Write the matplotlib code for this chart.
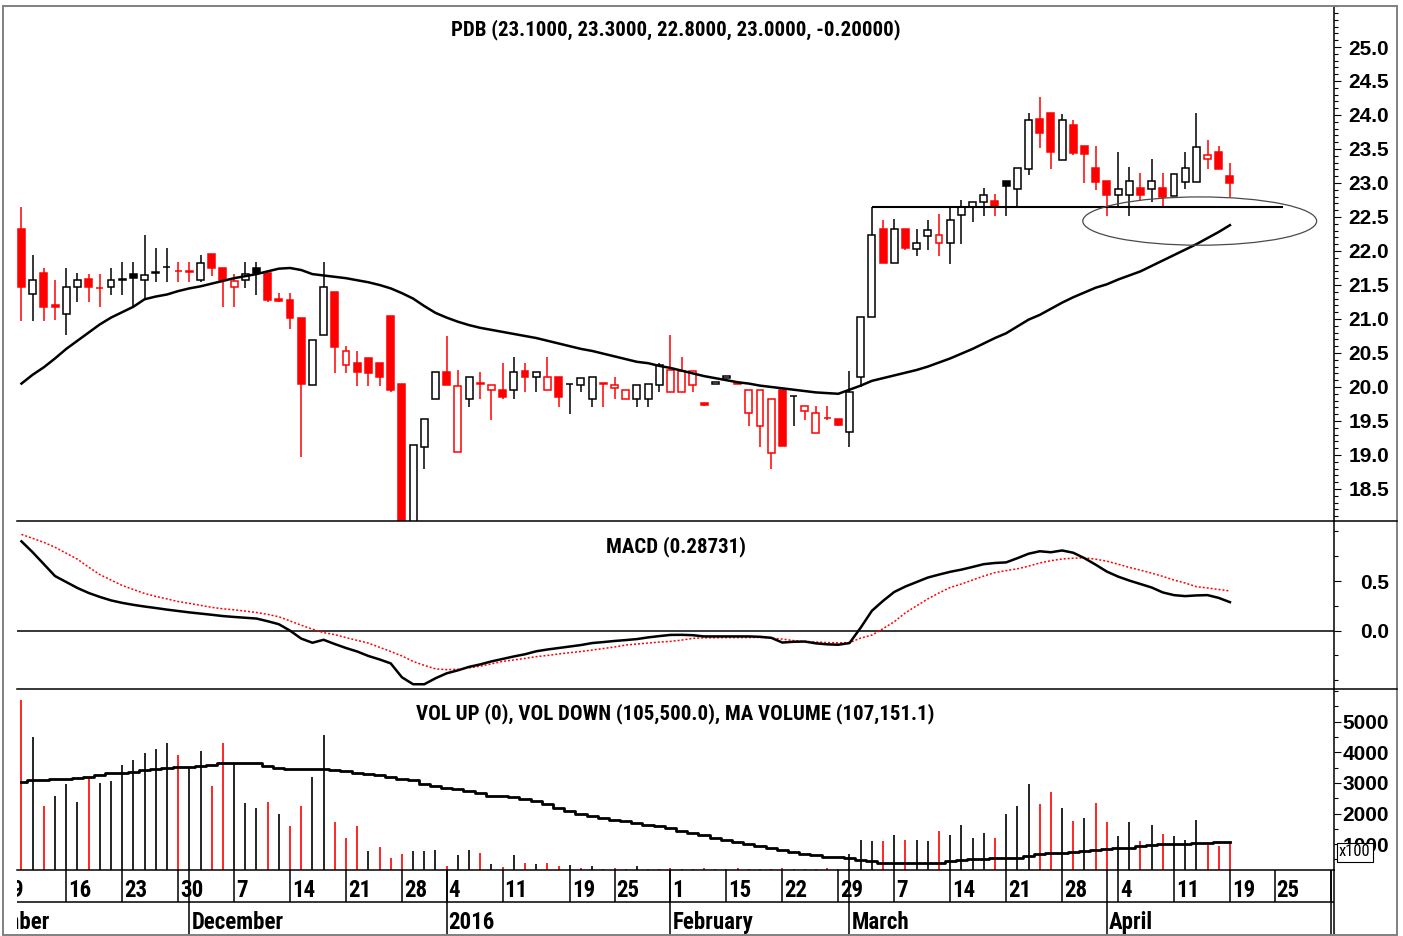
import matplotlib
matplotlib.use("Agg")
import matplotlib.pyplot as plt
import matplotlib.transforms as mtransforms
from matplotlib import font_manager as fm
from matplotlib.patches import Rectangle, Ellipse
from matplotlib.lines import Line2D
from matplotlib.ticker import MultipleLocator, FixedLocator, FixedFormatter

# ---------------------------------------------------------------- data
price_title = "PDB (23.1000, 23.3000, 22.8000, 23.0000, -0.20000)"
macd_title = "MACD (0.28731)"
vol_title = "VOL UP (0), VOL DOWN (105,500.0), MA VOLUME (107,151.1)"

prev_close0 = 22.50

opens = [22.33, 21.37, 21.67, 21.20, 21.07, 21.47, 21.59, 21.46, 21.47, 21.58,
         21.66, 21.57, 21.68, 21.76, 21.71, 21.70, 21.57, 21.96, 21.75, 21.47,
         21.57, 21.75, 21.67, 21.30, 21.28, 21.01, 20.03, 20.76, 21.39, 20.32,
         20.35, 20.42, 20.35, 21.04, 20.04, 17.95, 19.12, 19.83, 20.22, 19.04,
         19.83, 20.06, 19.95, 19.96, 19.95, 20.24, 20.14, 19.95, 20.14, 20.04,
         20.03, 19.83, 20.06, 19.98, 19.83, 19.83, 19.83, 20.03, 19.93, 19.93,
         20.03, 19.76, 20.05, 20.13, 20.06, 19.61, 19.43, 19.03, 19.96, 19.86,
         19.65, 19.32, 19.55, 19.53, 19.34, 20.14, 21.03, 22.33, 21.82, 22.33,
         22.03, 22.22, 22.12, 22.12, 22.53, 22.64, 22.72, 22.74, 23.03, 22.91,
         23.20, 23.94, 24.03, 23.34, 23.85, 23.54, 23.22, 23.03, 22.82, 22.82,
         22.92, 22.91, 22.92, 22.81, 23.02, 23.02, 23.36, 23.45, 23.10]
highs = [22.64, 21.94, 21.75, 21.57, 21.75, 21.67, 21.66, 21.66, 21.75, 21.84,
         21.84, 22.24, 22.04, 22.04, 21.84, 21.84, 21.94, 21.96, 21.75, 21.66,
         21.84, 21.84, 21.67, 21.38, 21.38, 21.01, 20.69, 21.84, 21.39, 20.61,
         20.53, 20.42, 20.35, 21.04, 20.04, 19.14, 19.53, 20.22, 20.75, 20.25,
         20.14, 20.22, 20.03, 20.35, 20.44, 20.35, 20.22, 20.44, 20.14, 20.05,
         20.13, 20.14, 20.06, 20.14, 19.95, 20.03, 20.04, 20.35, 20.76, 20.44,
         20.23, 19.76, 20.08, 20.16, 20.06, 19.96, 19.96, 19.83, 19.96, 19.87,
         19.72, 19.72, 19.72, 19.53, 20.24, 21.03, 22.64, 22.46, 22.47, 22.33,
         22.32, 22.46, 22.54, 22.63, 22.75, 22.72, 22.92, 22.84, 23.03, 23.22,
         24.03, 24.26, 24.03, 24.02, 23.93, 23.54, 23.54, 23.03, 23.45, 23.23,
         23.14, 23.36, 23.14, 23.13, 23.45, 24.03, 23.63, 23.54, 23.30]
lows = [20.97, 20.97, 20.97, 20.99, 20.76, 21.25, 21.25, 21.17, 21.35, 21.35,
        21.19, 21.29, 21.55, 21.55, 21.55, 21.55, 21.55, 21.63, 21.17, 21.17,
        21.45, 21.35, 21.25, 21.25, 20.86, 18.97, 20.03, 20.76, 20.21, 20.21,
        20.01, 20.01, 20.01, 19.93, 17.90, 17.90, 18.80, 19.83, 20.03, 19.04,
        19.70, 19.83, 19.51, 19.83, 19.82, 19.93, 19.93, 19.95, 19.70, 19.60,
        19.93, 19.70, 19.70, 19.83, 19.83, 19.70, 19.70, 19.93, 19.93, 19.93,
        19.93, 19.72, 20.04, 20.13, 20.04, 19.42, 19.12, 18.80, 19.13, 19.42,
        19.51, 19.32, 19.51, 19.42, 19.12, 20.00, 21.03, 21.82, 21.82, 22.01,
        21.92, 22.01, 21.92, 21.81, 22.10, 22.43, 22.51, 22.51, 22.51, 22.64,
        23.12, 23.51, 23.20, 23.34, 23.41, 23.00, 22.90, 22.51, 22.64, 22.51,
        22.75, 22.72, 22.65, 22.81, 22.91, 23.02, 23.20, 23.20, 22.80]
closes = [21.47, 21.57, 21.18, 21.17, 21.47, 21.57, 21.47, 21.45, 21.57, 21.59,
          21.60, 21.65, 21.69, 21.77, 21.70, 21.69, 21.82, 21.75, 21.57, 21.56,
          21.66, 21.68, 21.28, 21.27, 21.01, 20.04, 20.69, 21.47, 20.59, 20.53,
          20.22, 20.21, 20.14, 19.96, 17.95, 19.14, 19.53, 20.22, 20.03, 20.02,
          20.14, 20.05, 20.03, 19.85, 20.22, 20.14, 20.22, 20.14, 19.85, 20.05,
          20.13, 20.14, 20.05, 20.03, 19.95, 20.03, 20.04, 20.32, 20.25, 20.24,
          20.23, 19.73, 20.07, 20.16, 20.04, 19.96, 19.95, 19.83, 19.13, 19.87,
          19.72, 19.62, 19.54, 19.44, 19.93, 21.03, 22.24, 21.82, 22.32, 22.05,
          22.12, 22.31, 22.24, 22.45, 22.64, 22.72, 22.82, 22.64, 22.95, 23.22,
          23.92, 23.73, 23.46, 23.92, 23.44, 23.43, 23.02, 22.82, 22.91, 23.03,
          22.82, 23.03, 22.79, 23.13, 23.22, 23.53, 23.41, 23.20, 23.00]

price_ma = [20.05, 20.18, 20.29, 20.42, 20.56, 20.68, 20.80, 20.92, 21.02, 21.10,
            21.18, 21.29, 21.33, 21.36, 21.41, 21.45, 21.48, 21.52, 21.56, 21.60,
            21.63, 21.66, 21.70, 21.74, 21.75, 21.72, 21.66, 21.64, 21.62, 21.60,
            21.57, 21.54, 21.50, 21.45, 21.38, 21.30, 21.19, 21.09, 21.02, 20.96,
            20.91, 20.87, 20.84, 20.81, 20.78, 20.75, 20.72, 20.68, 20.64, 20.60,
            20.56, 20.53, 20.49, 20.45, 20.41, 20.37, 20.35, 20.31, 20.28, 20.24,
            20.20, 20.16, 20.13, 20.10, 20.07, 20.05, 20.02, 20.00, 19.98, 19.96,
            19.94, 19.92, 19.91, 19.90, 19.96, 20.02, 20.09, 20.13, 20.17, 20.21,
            20.25, 20.30, 20.36, 20.42, 20.49, 20.56, 20.64, 20.72, 20.79, 20.89,
            20.99, 21.06, 21.15, 21.24, 21.32, 21.39, 21.46, 21.51, 21.58, 21.64,
            21.70, 21.78, 21.86, 21.94, 22.02, 22.10, 22.19, 22.28, 22.38]

macd = [0.90, 0.79, 0.67, 0.55, 0.49, 0.43, 0.38, 0.34, 0.305, 0.28,
        0.26, 0.243, 0.228, 0.212, 0.198, 0.184, 0.172, 0.16, 0.147, 0.138,
        0.13, 0.122, 0.095, 0.065, 0.0, -0.08, -0.122, -0.092, -0.135, -0.175,
        -0.21, -0.255, -0.29, -0.33, -0.47, -0.54, -0.54, -0.48, -0.43, -0.40,
        -0.365, -0.34, -0.31, -0.285, -0.26, -0.238, -0.208, -0.19, -0.175, -0.16,
        -0.145, -0.125, -0.115, -0.104, -0.095, -0.085, -0.068, -0.055, -0.043, -0.042,
        -0.046, -0.058, -0.058, -0.058, -0.058, -0.058, -0.062, -0.072, -0.12, -0.112,
        -0.11, -0.128, -0.138, -0.142, -0.125, 0.03, 0.20, 0.30, 0.39, 0.445,
        0.49, 0.535, 0.565, 0.593, 0.615, 0.642, 0.67, 0.682, 0.688, 0.73,
        0.775, 0.80, 0.79, 0.808, 0.785, 0.73, 0.665, 0.595, 0.545, 0.505,
        0.47, 0.435, 0.385, 0.358, 0.348, 0.355, 0.358, 0.33, 0.287]
signal = [0.97, 0.93, 0.89, 0.84, 0.78, 0.72, 0.64, 0.565, 0.51, 0.455,
          0.415, 0.375, 0.345, 0.32, 0.293, 0.275, 0.255, 0.235, 0.22, 0.21,
          0.197, 0.183, 0.164, 0.14, 0.098, 0.055, 0.015, -0.02, -0.04, -0.07,
          -0.098, -0.125, -0.168, -0.21, -0.255, -0.31, -0.35, -0.385, -0.393, -0.39,
          -0.375, -0.358, -0.335, -0.31, -0.295, -0.28, -0.262, -0.25, -0.235, -0.222,
          -0.21, -0.195, -0.18, -0.165, -0.145, -0.135, -0.125, -0.115, -0.108, -0.095,
          -0.078, -0.072, -0.072, -0.07, -0.07, -0.069, -0.068, -0.075, -0.085, -0.10,
          -0.108, -0.115, -0.12, -0.123, -0.12, -0.075, -0.045, 0.02, 0.09, 0.18,
          0.25, 0.32, 0.38, 0.435, 0.47, 0.51, 0.55, 0.585, 0.605, 0.623,
          0.65, 0.682, 0.705, 0.722, 0.73, 0.735, 0.72, 0.70, 0.67, 0.637,
          0.61, 0.58, 0.547, 0.51, 0.48, 0.443, 0.43, 0.415, 0.40]

# volume in units of 100 shares
volume = [5700, 4500, 2240, 2570, 2960, 2390, 3180, 3010, 3070, 3580,
          3760, 3970, 4110, 4310, 3920, 3510, 4050, 2900, 4310, 3620,
          2350, 2190, 2390, 1970, 1580, 2260, 3210, 4580, 1710, 1200,
          1580, 760, 900, 560, 670, 760, 760, 810, 290, 630,
          810, 710, 350, 240, 630, 380, 350, 380, 290, 320,
          210, 290, 200, 210, 200, 290, 190, 200, 210, 190,
          200, 210, 190, 200, 210, 200, 190, 200, 210, 200,
          190, 200, 210, 200, 680, 1120, 1090, 1090, 1290, 1140,
          1120, 1090, 1420, 1310, 1620, 1200, 1380, 1200, 2000, 2240,
          2960, 2300, 2720, 2190, 1750, 1860, 2330, 1710, 1280, 1710,
          1090, 1620, 1330, 1280, 1140, 1800, 980, 950, 1055]
vol_down_days = [0, 2, 6, 14, 17, 18, 22, 24, 25, 28, 29, 30, 32, 33, 34, 38, 41,
                 43, 45, 47, 48, 50, 52, 53, 54, 56, 57, 58, 59, 60, 61, 62, 63,
                 64, 65, 66, 67, 68, 69, 70, 71, 72, 73, 77, 79, 82, 87, 91, 92,
                 94, 96, 97, 100, 102, 106, 107, 108]
volume_ma = [3030, 3098, 3110, 3125, 3144, 3175, 3210, 3265, 3319, 3340,
             3362, 3410, 3451, 3480, 3507, 3535, 3560, 3600, 3649, 3649,
             3649, 3649, 3560, 3500, 3451, 3451, 3451, 3451, 3425, 3380,
             3340, 3290, 3245, 3190, 3140, 3085, 2975, 2910, 2850, 2800,
             2740, 2680, 2590, 2560, 2530, 2490, 2400, 2300, 2190, 2080,
             2000, 1910, 1850, 1800, 1745, 1690, 1630, 1580, 1530, 1440,
             1360, 1290, 1210, 1130, 1060, 1000, 940, 880, 810, 745,
             690, 640, 595, 570, 555, 490, 440, 380, 376, 376,
             376, 376, 400, 460, 490, 510, 520, 535, 540, 560,
             600, 670, 700, 720, 740, 775, 800, 830, 860, 890,
             925, 965, 990, 1000, 1005, 1030, 1045, 1060, 1071.5]

# date axis (bar-index positions of the week / month separators)
day_tick_pos = [-1, 4, 9, 14, 19, 24, 29, 34, 38, 43, 49, 53, 58, 63, 68, 73,
                78, 83, 88, 93, 98, 103, 108, 112, 117]
day_tick_labels = ["9", "16", "23", "30", "7", "14", "21", "28", "4", "11", "19",
                   "25", "1", "15", "22", "29", "7", "14", "21", "28", "4", "11",
                   "19", "25", "2"]
month_tick_pos = [-6, 15, 38, 58, 74, 97, 117]
month_labels = ["November", "December", "2016", "February", "March", "April", "May"]

price_ticks = [18.5, 19.0, 19.5, 20.0, 20.5, 21.0, 21.5, 22.0, 22.5, 23.0, 23.5,
               24.0, 24.5, 25.0]
macd_ticks = [0.0, 0.5]
vol_ticks = [1000, 2000, 3000, 4000, 5000]

# annotations drawn on the price pane
support_level = 22.64
support_from, support_to = 76, 112.7
ellipse_center = (105.3, 22.44)
ellipse_size = (20.9, 0.71)

# ---------------------------------------------------------------- fonts
available = {f.name for f in fm.fontManager.ttflist}


def pick(cands):
    for c in cands:
        if c in available:
            return c
    return "DejaVu Sans"


NARROW = pick(["Liberation Sans Narrow", "Arial Narrow", "Roboto Condensed",
               "Open Sans Condensed", "Noto Sans Condensed", "DejaVu Sans Condensed",
               "Liberation Sans"])
SANS = pick(["Liberation Sans", "Arial", "DejaVu Sans"])

RED = "#ff0000"
BLACK = "#000000"

# ---------------------------------------------------------------- layout
W, H = 1403, 936
fig = plt.figure(figsize=(W / 100, H / 100), dpi=100)
fig.patch.set_facecolor("white")

L, R = 17, 1334


def add_ax(top, bottom):
    return fig.add_axes([L / W, 1 - bottom / H, (R - L) / W, (bottom - top) / H])


ax_p = add_ax(6, 521)
ax_m = add_ax(521, 688.5)
ax_v = add_ax(688.5, 870)
ax_d = add_ax(870, 935)

XMIN, XMAX = -0.40, 117.3
for ax in (ax_p, ax_m, ax_v, ax_d):
    ax.set_xlim(XMIN, XMAX)
    ax.set_facecolor("none")
    for s in ("top", "left", "bottom"):
        ax.spines[s].set_visible(False)
    ax.spines["right"].set_linewidth(1.1)
    ax.set_xticks([])
    ax.yaxis.tick_right()

n = len(closes)
idx = list(range(n))
prev = [prev_close0] + closes[:-1]

# ---------------------------------------------------------------- price pane
BODY_W = 0.62
for i in idx:
    o, h, l, c = opens[i], highs[i], lows[i], closes[i]
    col = RED if c < prev[i] else BLACK
    ax_p.vlines(i, l, h, color=col, lw=1.1, zorder=2)
    bottom = min(o, c)
    height = max(abs(c - o), 0.004)
    fc = col if c < o else "white"
    ax_p.add_patch(Rectangle((i - BODY_W / 2, bottom), BODY_W, height, facecolor=fc,
                             edgecolor=col, lw=1.1, zorder=3))

ax_p.plot(idx, price_ma, color=BLACK, lw=1.8, zorder=4)
ax_p.plot([support_from, support_to], [support_level, support_level], color=BLACK,
          lw=1.5, zorder=5, solid_capstyle="butt")
ax_p.add_patch(Ellipse(ellipse_center, ellipse_size[0], ellipse_size[1], fill=False,
                       edgecolor="#4a4a4a", lw=0.9, zorder=5))
ax_p.set_ylim(18.029, 25.603)
ax_p.yaxis.set_major_locator(FixedLocator(price_ticks))
ax_p.yaxis.set_major_formatter(FixedFormatter(["%.1f" % t for t in price_ticks]))
ax_p.yaxis.set_minor_locator(MultipleLocator(0.1))
TITLE_FS = 15
ax_p.text(0.5, 1 - (35 - 6) / 515, price_title, transform=ax_p.transAxes, ha="center",
          va="baseline", fontfamily=NARROW, fontweight="bold", fontsize=TITLE_FS)

# ---------------------------------------------------------------- MACD pane
ax_m.plot(idx, macd, color=BLACK, lw=1.8, zorder=3)
ax_m.plot(idx, signal, color=RED, lw=1.1, ls=(0, (1.3, 1.3)), zorder=2)
ax_m.axhline(0, color=BLACK, lw=1.1, zorder=1)
ax_m.set_ylim(-0.583, 1.105)
ax_m.yaxis.set_major_locator(FixedLocator(macd_ticks))
ax_m.yaxis.set_major_formatter(FixedFormatter(["%.1f" % t for t in macd_ticks]))
ax_m.yaxis.set_minor_locator(MultipleLocator(0.25))
ax_m.text(0.5, 1 - (552 - 521) / 167.5, macd_title, transform=ax_m.transAxes,
          ha="center", va="baseline", fontfamily=NARROW, fontweight="bold",
          fontsize=TITLE_FS)

# ---------------------------------------------------------------- volume pane
VOL_BOTTOM = 155
vol_cols = [RED if i in vol_down_days else BLACK for i in idx]
ax_v.vlines(idx, VOL_BOTTOM, volume, colors=vol_cols, lw=1.2, zorder=2)
ax_v.plot(idx, volume_ma, color=BLACK, lw=2.0, drawstyle="steps-mid", zorder=3)
ax_v.set_ylim(VOL_BOTTOM, 6088)
ax_v.yaxis.set_major_locator(FixedLocator(vol_ticks))
ax_v.yaxis.set_major_formatter(FixedFormatter(["%d" % t for t in vol_ticks]))
ax_v.yaxis.set_minor_locator(MultipleLocator(500))
ax_v.spines["bottom"].set_visible(True)
ax_v.spines["bottom"].set_linewidth(1.1)
ax_v.text(0.5, 1 - (719 - 688.5) / 181.5, vol_title, transform=ax_v.transAxes,
          ha="center", va="baseline", fontfamily=NARROW, fontweight="bold",
          fontsize=TITLE_FS)

# right-hand value axes
PAD = (1389 - 1334 - 7) * 0.72
for ax in (ax_p, ax_m, ax_v):
    ax.tick_params(axis="y", which="major", direction="out", length=5, width=0.8,
                   pad=PAD, labelsize=15, colors=BLACK)
    ax.tick_params(axis="y", which="minor", direction="out", length=2.8, width=0.8)
    for t in ax.yaxis.get_major_ticks():
        t.label2.set_horizontalalignment("right")
        t.label2.set_fontfamily(SANS)
        t.label2.set_fontweight("bold")

fig.text(1339 / W, 1 - 852 / H, "x100", ha="left", va="center", fontfamily=NARROW,
         fontsize=12, zorder=10,
         bbox=dict(boxstyle="square,pad=0.12", facecolor="white", edgecolor=BLACK,
                   lw=0.8))

# ---------------------------------------------------------------- date axis
ax_d.set_ylim(0, 1)
ax_d.set_yticks([])
ROW = 1 - (902 - 870) / 65
ax_d.axhline(ROW, color=BLACK, lw=1.1)
ax_d.vlines(day_tick_pos, ROW, 1, color=BLACK, lw=1.1)
ax_d.vlines(month_tick_pos, 0, 1, color=BLACK, lw=1.1)
off = mtransforms.ScaledTranslation(2 / 100, 0, fig.dpi_scale_trans)
tr = mtransforms.blended_transform_factory(ax_d.transData, ax_d.transAxes) + off
for p, lab in zip(day_tick_pos, day_tick_labels):
    t = ax_d.text(p, 1 - (897 - 870) / 65, lab, transform=tr, ha="left", va="baseline",
                  fontfamily=NARROW, fontweight="bold", fontsize=16.5)
    t.set_clip_box(ax_d.bbox)
    t.set_clip_on(True)
for p, lab in zip(month_tick_pos, month_labels):
    t = ax_d.text(p, 1 - (929 - 870) / 65, lab, transform=tr, ha="left", va="baseline",
                  fontfamily=NARROW, fontweight="bold", fontsize=16.5)
    t.set_clip_box(ax_d.bbox)
    t.set_clip_on(True)

# ---------------------------------------------------------------- frame & separators
for y in (521, 688.5):
    fig.add_artist(Line2D([L / W, 1397 / W], [1 - y / H, 1 - y / H],
                          transform=fig.transFigure, color=BLACK, lw=1.1))
fig.add_artist(Rectangle((3 / W, 1 - 935 / H), (1397 - 3) / W, (935 - 5.5) / H,
                         transform=fig.transFigure, fill=False, edgecolor="#808080",
                         lw=1.4))

fig.savefig("out.png", dpi=100, facecolor="white")
